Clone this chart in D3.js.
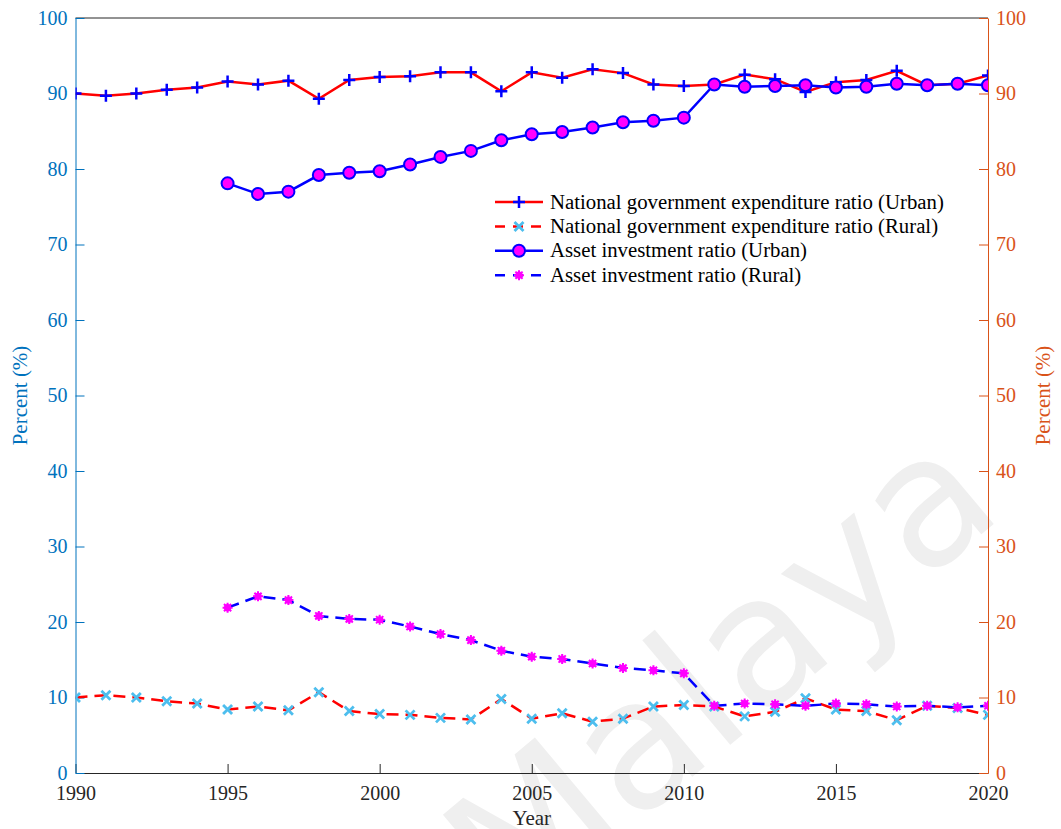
<!DOCTYPE html>
<html>
<head>
<meta charset="utf-8">
<script src="https://cdn.jsdelivr.net/npm/d3@7"></script>
<style>
  body { margin: 0; background: #fff; }
  svg text { font-family: "Liberation Serif", "Times New Roman", Tinos, "DejaVu Serif", serif !important; }
  svg text.wm { font-family: "DejaVu Sans", sans-serif !important; }
</style>
</head>
<body>
<script>
/* Data */
const years = d3.range(1990, 2021);
const assetYears = d3.range(1995, 2021);

const expUrban = [90.0, 89.7, 90.0, 90.5, 90.8, 91.6, 91.2, 91.7, 89.3, 91.8,
  92.2, 92.3, 92.8, 92.8, 90.3, 92.8, 92.1, 93.2, 92.7, 91.2,
  91.0, 91.2, 92.5, 91.9, 90.2, 91.5, 91.8, 93.0, 91.1, 91.3, 92.4];
const expRural = [10.0, 10.3, 10.0, 9.5, 9.2, 8.4, 8.8, 8.3, 10.7, 8.2,
  7.8, 7.7, 7.3, 7.1, 9.8, 7.2, 7.9, 6.8, 7.2, 8.8,
  9.0, 8.8, 7.5, 8.1, 9.9, 8.4, 8.2, 7.0, 8.9, 8.6, 7.7];
const assetUrban = [78.1, 76.7, 77.0, 79.2, 79.5, 79.7, 80.6, 81.6, 82.4, 83.8,
  84.6, 84.9, 85.5, 86.2, 86.4, 86.8, 91.2, 90.9, 91.0, 91.1,
  90.8, 90.9, 91.3, 91.1, 91.3, 91.1];
const assetRural = [21.9, 23.4, 22.9, 20.8, 20.4, 20.3, 19.4, 18.4, 17.6, 16.2,
  15.4, 15.1, 14.5, 13.9, 13.6, 13.2, 8.9, 9.2, 9.1, 8.9,
  9.2, 9.1, 8.8, 8.9, 8.7, 8.9];

const xTicks = [1990, 1995, 2000, 2005, 2010, 2015, 2020];
const yTicks = [0, 10, 20, 30, 40, 50, 60, 70, 80, 90, 100];
const legendLabels = [
  "National government expenditure ratio (Urban)",
  "National government expenditure ratio (Rural)",
  "Asset investment ratio (Urban)",
  "Asset investment ratio (Rural)"
];

/* Constants */
const w = 1061, h = 829;
const padL = 75.5, padR = 988, padT = 18, padB = 773;
const leftColor = "#0072BD";
const rightColor = "#D95319";

const svg = d3.select("body").append("svg")
  .attr("width", w)
  .attr("height", h);

/* Watermark */
svg.append("text")
  .attr("class", "wm")
  .attr("transform", "translate(760,720) rotate(-40)")
  .attr("text-anchor", "middle")
  .style("font-size", "180px")
  .attr("fill", "#efefef")
  .text("Malaya");

/* Scales */
const xScale = d3.scaleLinear().domain([1990, 2020]).range([padL, padR]);
const yScale = d3.scaleLinear().domain([0, 100]).range([padB, padT]);

/* Axes */
svg.append("line")
  .attr("x1", padL).attr("x2", padR).attr("y1", padT).attr("y2", padT)
  .attr("stroke", "#262626").attr("stroke-width", 1);

const xAxis = svg.append("g")
  .attr("transform", "translate(0," + padB + ")")
  .call(d3.axisBottom(xScale).tickValues(xTicks).tickFormat(d3.format("d"))
    .tickSizeInner(-9).tickSizeOuter(0).tickPadding(13));
xAxis.select(".domain").attr("stroke", "#262626");
xAxis.selectAll(".tick line").attr("stroke", "#262626");
xAxis.selectAll(".tick text").attr("fill", "#262626").style("font-size", "20px");

const yLeft = svg.append("g")
  .attr("transform", "translate(" + padL + ",0)")
  .call(d3.axisLeft(yScale).tickValues(yTicks).tickSizeInner(-9).tickSizeOuter(0).tickPadding(8));
yLeft.select(".domain").attr("stroke", leftColor);
yLeft.selectAll(".tick line").attr("stroke", leftColor);
yLeft.selectAll(".tick text").attr("fill", leftColor).style("font-size", "20px");

const yRight = svg.append("g")
  .attr("transform", "translate(" + padR + ",0)")
  .call(d3.axisRight(yScale).tickValues(yTicks).tickSizeInner(-9).tickSizeOuter(0).tickPadding(8));
yRight.select(".domain").attr("stroke", rightColor);
yRight.selectAll(".tick line").attr("stroke", rightColor);
yRight.selectAll(".tick text").attr("fill", rightColor).style("font-size", "20px");

/* Axis labels */
svg.append("text")
  .attr("x", (padL + padR) / 2).attr("y", 825)
  .attr("text-anchor", "middle").attr("fill", "#262626")
  .style("font-size", "21px").text("Year");

svg.append("text")
  .attr("transform", "translate(27," + (padT + padB) / 2 + ") rotate(-90)")
  .attr("text-anchor", "middle").attr("fill", leftColor)
  .style("font-size", "21px").text("Percent (%)");

svg.append("text")
  .attr("transform", "translate(1050," + (padT + padB) / 2 + ") rotate(-90)")
  .attr("text-anchor", "middle").attr("fill", rightColor)
  .style("font-size", "21px").text("Percent (%)");

/* Clip */
svg.append("clipPath").attr("id", "plot")
  .append("rect").attr("x", padL).attr("y", padT)
  .attr("width", padR - padL).attr("height", padB - padT);

const plot = svg.append("g").attr("clip-path", "url(#plot)");

const line = d3.line().x(d => xScale(d[0])).y(d => yScale(d[1]));

const series = [
  { data: years.map((y, i) => [y, expUrban[i]]), color: "red", dash: null, marker: "plus" },
  { data: years.map((y, i) => [y, expRural[i]]), color: "red", dash: "12,7", marker: "cross" },
  { data: assetYears.map((y, i) => [y, assetUrban[i]]), color: "blue", dash: null, marker: "circle" },
  { data: assetYears.map((y, i) => [y, assetRural[i]]), color: "blue", dash: "12,7", marker: "star" }
];

/* Markers */
let drawMarker = (g, type, x, y) => {
  if (type == "plus") {
    g.append("path").attr("d", `M${x - 6},${y}H${x + 6}M${x},${y - 6}V${y + 6}`)
      .attr("stroke", "blue").attr("stroke-width", 2.5).attr("fill", "none");
  } else if (type == "cross") {
    g.append("path").attr("d", `M${x - 4.5},${y - 4.5}L${x + 4.5},${y + 4.5}M${x - 4.5},${y + 4.5}L${x + 4.5},${y - 4.5}`)
      .attr("stroke", "#4DBEEE").attr("stroke-width", 2.8).attr("fill", "none");
  } else if (type == "circle") {
    g.append("circle").attr("cx", x).attr("cy", y).attr("r", 6)
      .attr("fill", "magenta").attr("stroke", "blue").attr("stroke-width", 2);
  } else {
    g.append("circle").attr("cx", x).attr("cy", y).attr("r", 3.6).attr("fill", "magenta");
    g.append("path").attr("d", `M${x - 5},${y}H${x + 5}M${x},${y - 5}V${y + 5}M${x - 3.6},${y - 3.6}L${x + 3.6},${y + 3.6}M${x - 3.6},${y + 3.6}L${x + 3.6},${y - 3.6}`)
      .attr("stroke", "magenta").attr("stroke-width", 2).attr("fill", "none");
  }
};

series.forEach(s => {
  plot.append("path")
    .datum(s.data)
    .attr("d", line)
    .attr("fill", "none")
    .attr("stroke", s.color)
    .attr("stroke-width", 2.5)
    .attr("stroke-dasharray", s.dash);
});
series.forEach(s => {
  const g = plot.append("g");
  s.data.forEach(d => drawMarker(g, s.marker, xScale(d[0]), yScale(d[1])));
});

/* Legend */
const legend = svg.append("g");
series.forEach((s, i) => {
  const ly = 202 + i * 24.4;
  legend.append("line")
    .attr("x1", 495).attr("x2", 543).attr("y1", ly).attr("y2", ly)
    .attr("stroke", s.color).attr("stroke-width", 2.5)
    .attr("stroke-dasharray", s.dash ? "10,8" : null);
  drawMarker(legend, s.marker, 519, ly);
  legend.append("text")
    .attr("x", 550).attr("y", ly + 6.5)
    .attr("fill", "#000")
    .style("font-size", "20.8px")
    .text(legendLabels[i]);
});
</script>
</body>
</html>
